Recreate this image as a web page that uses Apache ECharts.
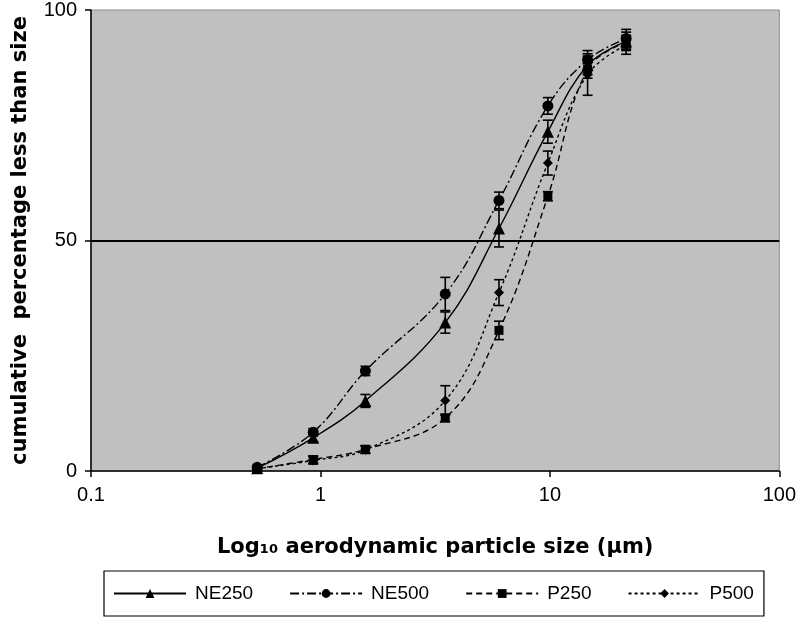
<!DOCTYPE html>
<html>
<head>
<meta charset="utf-8">
<script src="https://cdn.jsdelivr.net/npm/echarts@6/dist/echarts.min.js"></script>
<style>
html,body{margin:0;padding:0;background:#fff;}
#chart{width:799px;height:626px;}
</style>
</head>
<body>
<div id="chart"></div>
<script>
// Particle sizes (µm)
var sizes = [0.53, 0.93, 1.57, 3.5, 6.0, 9.8, 14.6, 21.5];
var seriesNames = ['NE250', 'NE500', 'P250', 'P500'];
// Cumulative percentage less than size
var ne250 = [0.6, 7.2, 15.2, 32.2, 52.6, 73.6, 88.0, 93.2];
var ne500 = [0.8, 8.4, 21.7, 38.4, 58.7, 79.2, 89.2, 93.8];
var p250  = [0.5, 2.5, 4.7, 11.5, 30.5, 59.6, 87.2, 93.0];
var p500  = [0.5, 2.3, 4.6, 15.3, 38.7, 66.8, 86.0, 92.4];
// Error (±)
var ne250Err = [0.3, 0.8, 1.4, 2.3, 4.0, 2.5, 2.0, 2.0];
var ne500Err = [0.3, 0.8, 1.0, 3.6, 1.8, 1.8, 2.0, 2.0];
var p250Err  = [0.3, 0.8, 0.8, 0.8, 2.0, 1.0, 2.0, 1.5];
var p500Err  = [0.3, 0.8, 0.8, 3.2, 2.8, 2.6, 4.5, 2.0];
// Axis ticks
var yTicks = [0, 50, 100];
var xTickLabels = ['0.1', '1', '10', '100'];

var FONT = "'Liberation Sans', Arial, sans-serif";
var TITLE_FONT = "'DejaVu Sans', 'Liberation Sans', Arial, sans-serif";
var values = [ne250, ne500, p250, p500];
var errs = [ne250Err, ne500Err, p250Err, p500Err];
var symbols = ['triangle', 'circle', 'rect', 'diamond'];
var symSizes = [12, 11, 9, 10];
var dashes = ['solid', [9, 3, 2, 3], [6, 4], [3, 3]];

var series = [];
values.forEach(function (vals, i) {
  series.push({
    name: seriesNames[i],
    type: 'line',
    smooth: 0.4,
    data: sizes.map(function (x, j) { return [x, vals[j]]; }),
    symbol: symbols[i],
    symbolSize: symSizes[i],
    showAllSymbol: true,
    itemStyle: { color: '#000', borderWidth: 0 },
    lineStyle: { color: '#000', width: 1.4, type: dashes[i] },
    z: 3,
    markLine: i === 0 ? {
      silent: true, symbol: 'none', label: { show: false },
      lineStyle: { color: '#000', width: 2, type: 'solid' },
      data: [{ yAxis: yTicks[1] }]
    } : undefined
  });
  series.push({
    name: seriesNames[i] + ' err',
    type: 'custom',
    data: sizes.map(function (x, j) { return [x, vals[j] - errs[i][j], vals[j] + errs[i][j]]; }),
    renderItem: function (params, api) {
      var lo = api.coord([api.value(0), api.value(1)]);
      var hi = api.coord([api.value(0), api.value(2)]);
      var hw = 5;
      var st = { stroke: '#000', lineWidth: 1.6 };
      return {
        type: 'group',
        children: [
          { type: 'line', shape: { x1: lo[0], y1: lo[1], x2: hi[0], y2: hi[1] }, style: st },
          { type: 'line', shape: { x1: lo[0] - hw, y1: lo[1], x2: lo[0] + hw, y2: lo[1] }, style: st },
          { type: 'line', shape: { x1: hi[0] - hw, y1: hi[1], x2: hi[0] + hw, y2: hi[1] }, style: st }
        ]
      };
    },
    z: 4,
    silent: true
  });
});

var chart = echarts.init(document.getElementById('chart'), null, { renderer: 'canvas' });
chart.setOption({
  animation: false,
  backgroundColor: '#fff',
  textStyle: { fontFamily: FONT },
  grid: {
    left: 91, right: 18, top: 8, bottom: 155,
    show: true, backgroundColor: '#c0c0c0', borderColor: '#8a8a8a', borderWidth: 1
  },
  xAxis: {
    type: 'log', logBase: 10, min: 0.1, max: 100,
    name: 'Log\u2081\u2080 aerodynamic particle size (\u00b5m)',
    nameLocation: 'middle', nameGap: 66,
    nameTextStyle: { fontFamily: TITLE_FONT, fontSize: 21, fontWeight: 'bold', color: '#000' },
    axisLine: { onZero: false, lineStyle: { color: '#000', width: 1.5 } },
    axisTick: { show: true, inside: false, length: 6, lineStyle: { color: '#000', width: 1.5 } },
    axisLabel: {
      margin: 14, fontSize: 20, color: '#000', fontFamily: FONT,
      formatter: function (v) {
        var k = Math.round(Math.log10(v)) + 1;
        return xTickLabels[k] !== undefined ? xTickLabels[k] : '';
      }
    },
    splitLine: { show: false },
    minorTick: { show: false }
  },
  yAxis: {
    type: 'value', min: yTicks[0], max: yTicks[2], interval: 50,
    name: 'cumulative  percentage less than size',
    nameLocation: 'middle', nameGap: 60,
    nameTextStyle: { fontFamily: TITLE_FONT, fontSize: 21, fontWeight: 'bold', color: '#000' },
    axisLine: { show: true, lineStyle: { color: '#000', width: 1.5 } },
    axisTick: { show: true, inside: false, length: 6, lineStyle: { color: '#000', width: 1.5 } },
    axisLabel: { margin: 14, fontSize: 20, color: '#000', fontFamily: FONT },
    splitLine: { show: false }
  },
  legend: {
    data: seriesNames,
    left: 104, top: 571, width: 683, height: 47,
    orient: 'horizontal',
    borderColor: '#000', borderWidth: 1.2,
    padding: [13, 10, 13, 9],
    itemWidth: 72, itemHeight: 11, itemGap: 36,
    textStyle: { fontFamily: FONT, fontSize: 19, color: '#000', padding: [0, 0, 0, 4] }
  },
  series: series
});
</script>
</body>
</html>
